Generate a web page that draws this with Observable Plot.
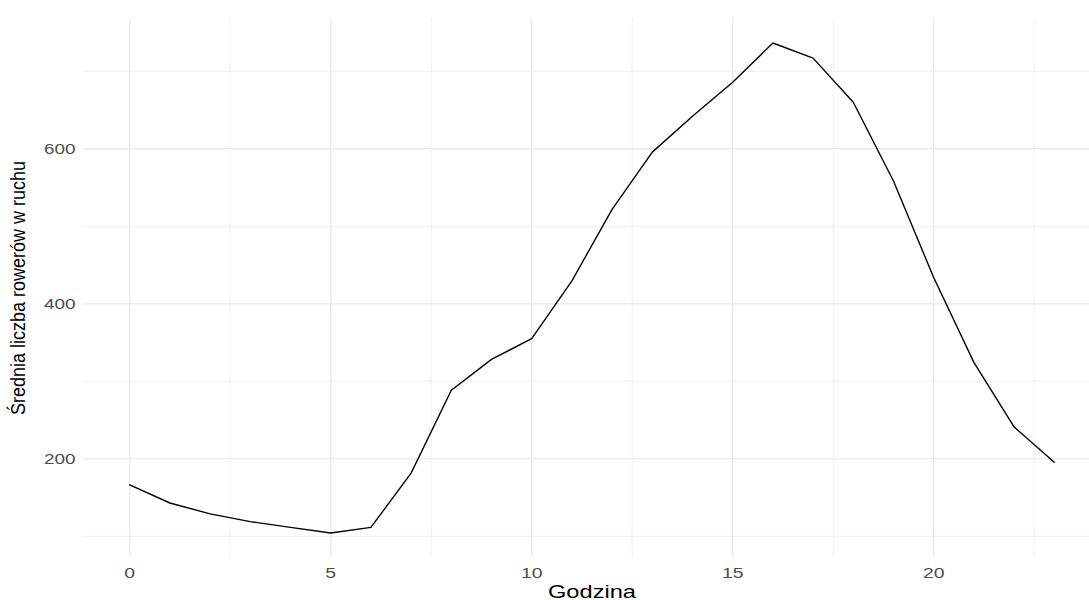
<!DOCTYPE html>
<html>
<head>
<meta charset="utf-8">
<script src="https://cdn.jsdelivr.net/npm/d3@7"></script>
<script src="https://cdn.jsdelivr.net/npm/@observablehq/plot@0.6"></script>
<style>
  html, body { margin: 0; padding: 0; background: #fff; }
  #chart svg { display: block; }
</style>
</head>
<body>
<div id="chart"></div>
<script>
const hours = [0,1,2,3,4,5,6,7,8,9,10,11,12,13,14,15,16,17,18,19,20,21,22,23];
const bikes = [166.5,143,129,119,111.6,104.3,111.6,181.5,288.4,328.3,355,429.6,521.9,595.7,642,685.8,736.5,717,660,558.4,433.9,324.5,241.2,195.7];
const xTicks = [0,5,10,15,20];
const xMinor = [2.5,7.5,12.5,17.5,22.5];
const yTicks = [200,400,600];
const yMinor = [100,300,500,700];
const xTitle = "Godzina";
const yTitle = "Średnia liczba rowerów w ruchu";

const data = hours.map((h, i) => ({hour: h, value: bikes[i]}));

const chart = Plot.plot({
  width: 1089,
  height: 600,
  marginLeft: 83,
  marginRight: -11,
  marginTop: 18,
  marginBottom: 43,
  style: {fontFamily: "'Liberation Sans', Arial, sans-serif", background: "#fff"},
  x: {domain: [-1.15, 24.15]},
  y: {domain: [72.7, 768.1]},
  marks: [
    Plot.gridX(xMinor, {stroke: "#ebebeb", strokeOpacity: 1, strokeWidth: 0.8}),
    Plot.gridY(yMinor, {stroke: "#ebebeb", strokeOpacity: 1, strokeWidth: 0.8}),
    Plot.gridX(xTicks, {stroke: "#ebebeb", strokeOpacity: 1, strokeWidth: 1.4}),
    Plot.gridY(yTicks, {stroke: "#ebebeb", strokeOpacity: 1, strokeWidth: 1.4}),
    Plot.axisX({ticks: xTicks, tickSize: 0, tickPadding: 9, fontSize: 15.5, fill: "#4d4d4d", label: null}),
    Plot.axisY({ticks: yTicks, tickSize: 0, tickPadding: 8, fontSize: 15.5, fill: "#4d4d4d", label: null}),
    Plot.line(data, {x: "hour", y: "value", stroke: "#000", strokeWidth: 1.4}),
    Plot.text([xTitle], {text: d => d, frameAnchor: "bottom", dy: 40, fontSize: 19, fill: "#000"}),
    Plot.text([yTitle], {text: d => d, frameAnchor: "left", textAnchor: "middle", dx: -65, rotate: -90, fontSize: 20, fill: "#000"})
  ]
});
document.getElementById("chart").appendChild(chart);

// Horizontal text in the reference is drawn wider than its height suggests;
// the rotated title is drawn narrower. Adjust glyph widths to match.
function stretch(sel, factor) {
  chart.querySelectorAll(sel).forEach(t => {
    const w = t.getComputedTextLength();
    t.setAttribute("textLength", (w * factor).toFixed(1));
    t.setAttribute("lengthAdjust", "spacingAndGlyphs");
  });
}
stretch('g[aria-label="x-axis tick label"] text', 1.25);
stretch('g[aria-label="y-axis tick label"] text', 1.22);
const texts = chart.querySelectorAll('g[aria-label="text"] text');
texts[0].setAttribute("textLength", "88");
texts[0].setAttribute("lengthAdjust", "spacingAndGlyphs");
texts[1].setAttribute("textLength", "254");
texts[1].setAttribute("lengthAdjust", "spacingAndGlyphs");
</script>
</body>
</html>
